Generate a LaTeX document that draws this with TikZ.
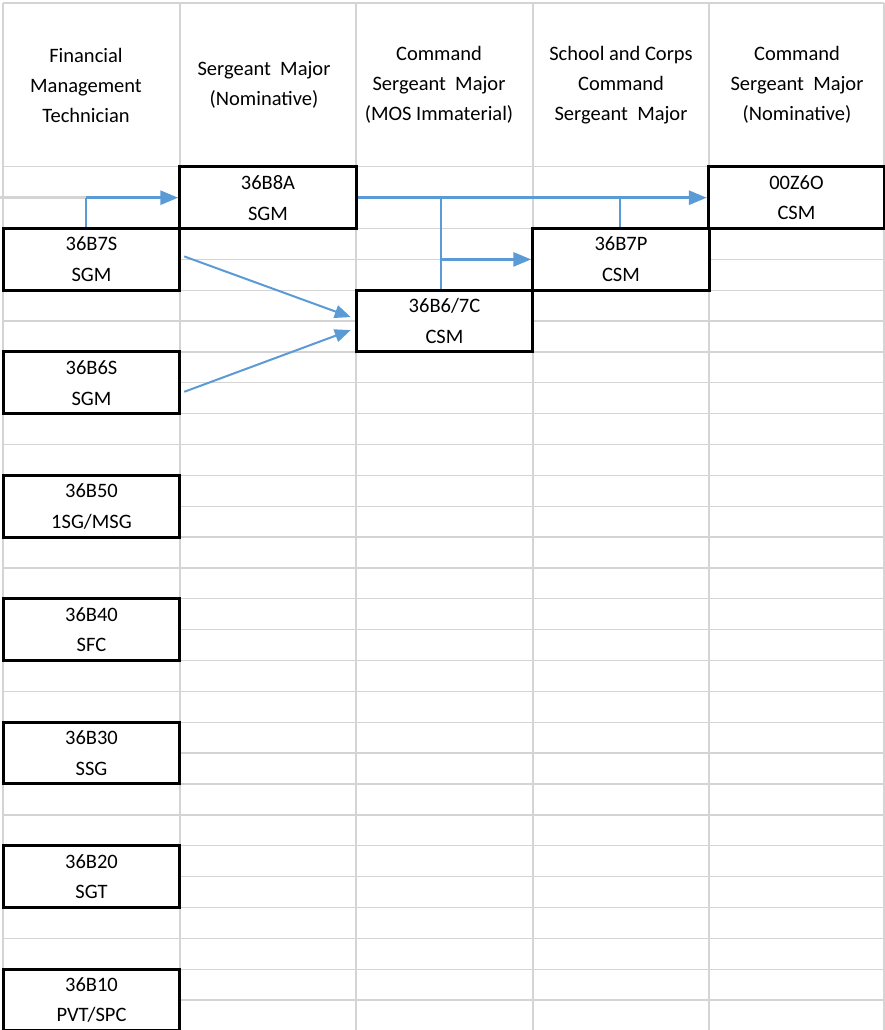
\documentclass[tikz,border=0pt]{standalone}
\usepackage{fontspec}
\setmainfont{Carlito}
\usepackage{tikz}
\usetikzlibrary{positioning, arrows.meta}
\definecolor{cellgray}{RGB}{212,212,212}
\definecolor{linkblue}{RGB}{91,155,213}
\tikzstyle{rank}=[draw, line width=3pt, fill=white, minimum width=176.5pt, minimum height=61.7pt, inner sep=0pt, align=center, execute at begin node=\fontsize{20.5}{30.86}\selectfont]
\tikzstyle{title}=[align=center, execute at begin node=\fontsize{20.5}{30}\selectfont]
\tikzstyle{cell}=[cellgray, line width=1.3pt]
\tikzstyle{promo}=[linkblue, line width=3pt]
\tikzstyle{feed}=[linkblue, line width=1.8pt]
\tikzstyle{cross}=[linkblue, line width=2pt, >={Triangle[length=16pt, width=13pt]}]

\begin{document}
\begin{tikzpicture}[x=1pt, y=-1pt, >={Triangle[length=18pt, width=14pt]}]
	\useasboundingbox (0,0) rectangle (885,1030);
	\clip (0,0) rectangle (885,1030);
	% sheet
	\foreach \cx in {3,180,356,533,709,884}
		\draw[cell] (\cx,3) -- (\cx,1030);
	\draw[cell] (3,3) -- (884,3);
	\foreach \k in {0,...,28}
		\draw[cell] (3,{166.8+30.86*\k}) -- (884,{166.8+30.86*\k});
	% column heads
	\node[title] (hFin) at (86,85) {Financial\\Management\\Technician};
	\node[title] (hSgm) at (264,85) {Sergeant\ \ Major\\(Nominative)};
	\node[title] (hMos) at (439,85) {Command\\Sergeant\ \ Major\\(MOS Immaterial)};
	\node[title] (hSch) at (621,85) {School and Corps\\Command\\Sergeant\ \ Major};
	\node[title] (hCsm) at (797,85) {Command\\Sergeant\ \ Major\\(Nominative)};
	% grades
	\node[rank] (sgm8a) at (268,197.7) {36B8A\\SGM};
	\node[rank] (csm00z) at (796.5,197.7) {00Z6O\\CSM};
	\node[rank] (sgm7s) at (91.5,259.4) {36B7S\\SGM};
	\node[rank] (csm7p) at (621,259.4) {36B7P\\CSM};
	\node[rank] (csm67c) at (444.5,321.1) {36B6/7C\\CSM};
	\node[rank] (sgm6s) at (91.5,382.8) {36B6S\\SGM};
	\node[rank] (sgt50) at (91.5,506.3) {36B50\\1SG/MSG};
	\node[rank] (sgt40) at (91.5,629.7) {36B40\\SFC};
	\node[rank] (sgt30) at (91.5,753.1) {36B30\\SSG};
	\node[rank] (sgt20) at (91.5,876.6) {36B20\\SGT};
	\node[rank] (sgt10) at (91.5,1000) {36B10\\PVT/SPC};
	% paths
	\coordinate (tail) at (0,197.7);
	\coordinate (jFin) at (86,197.7);
	\coordinate (jMos) at (441,197.7);
	\coordinate (jSch) at (441,259.4);
	\coordinate (jCorps) at (620,197.7);
	\draw[cell, line width=3pt] (tail) -- (jFin);
	\draw[feed] (sgm7s.north -| jFin) -- (jFin);
	\draw[feed] (csm67c.north -| jMos) -- (jMos);
	\draw[feed] (csm7p.north -| jCorps) -- (jCorps);
	\path[promo,->] (jFin) edge (sgm8a.west);
	\path[promo,->] (sgm8a.east) edge (csm00z.west);
	\path[promo,->] (jSch) edge (csm7p.west);
	\path[cross,->] ([shift={(3,-3)}]sgm7s.east) edge ([shift={(-4,-4)}]csm67c.west);
	\path[cross,->] ([shift={(3,9)}]sgm6s.east) edge ([shift={(-4,9)}]csm67c.west);
\end{tikzpicture}
\end{document}
